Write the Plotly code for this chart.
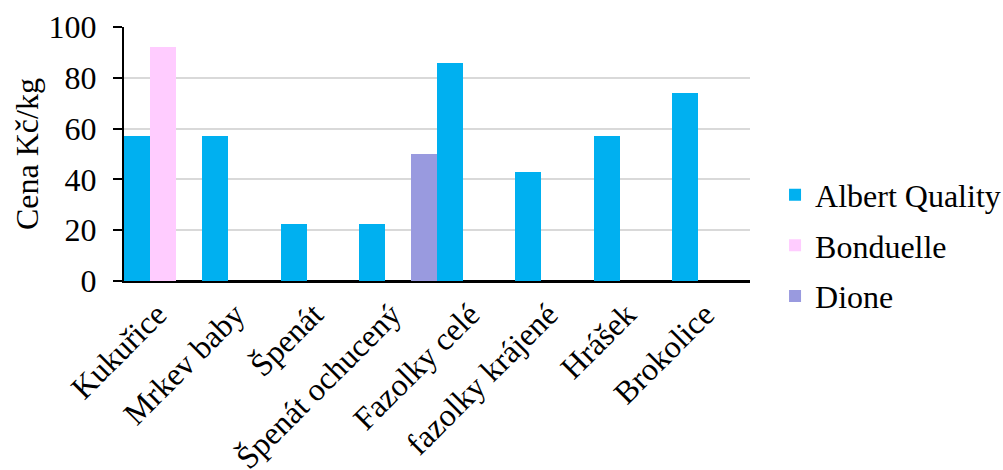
import plotly.graph_objects as go

categories = ["Kukuřice", "Mrkev baby", "Špenát", "Špenát ochucený", "Fazolky celé",
              "fazolky krájené", "Hrášek", "Brokolice"]
albert = [57, 57, 22.5, 22.5, 86, 43, 57, 74]
bonduelle = [92, None, None, None, None, None, None, None]
dione = [None, None, None, 50, None, None, None, None]
series_names = ["Albert Quality", "Bonduelle", "Dione"]
colors = ["#00B0F0", "#FFCCFF", "#999ADF"]
y_ticks = [0, 20, 40, 60, 80, 100]
y_title = "Cena Kč/kg"

FONT = "Liberation Serif"
FS = 32

fig = go.Figure()
for name, vals, col in zip(series_names, [albert, bonduelle, dione], colors):
    fig.add_trace(go.Bar(x=categories, y=vals, name=name, marker_color=col,
                         marker_line_width=0, legendgroup=name))

fig.update_layout(
    width=1003, height=470,
    margin=dict(l=124, r=253, t=27, b=189, pad=0, autoexpand=False),
    paper_bgcolor="white", plot_bgcolor="white",
    barmode="group", bargap=0, bargroupgap=0,
    font=dict(family=FONT, size=FS, color="black"),
    legend=dict(x=1.04, xanchor="left", y=0.14, yanchor="middle",
                font=dict(family=FONT, size=FS), tracegroupgap=6,
                traceorder="grouped", itemclick=False),
    xaxis=dict(tickangle=-45, showgrid=False, showline=True, linecolor="black",
               linewidth=2, ticks="", ticklabelstandoff=0, ticklabelshift=-6,
               automargin=False, tickfont=dict(family=FONT, size=FS)),
    yaxis=dict(range=[0, 100], tickvals=y_ticks, showgrid=True,
               gridcolor="#D9D9D9", gridwidth=1.5, zeroline=True,
               zerolinecolor="black", zerolinewidth=2, automargin=False,
               showline=True, linecolor="black", linewidth=2,
               ticks="outside", ticklen=9, tickcolor="black", tickwidth=2,
               ticklabelstandoff=10,
               tickfont=dict(family=FONT, size=FS)),
    annotations=[dict(text=y_title, xref="paper", yref="paper",
                      x=(27 - 124) / 626, y=0.5, xanchor="center", yanchor="middle",
                      textangle=-90, showarrow=False,
                      font=dict(family=FONT, size=FS, color="black"))],
)

fig.write_html("out.html")
